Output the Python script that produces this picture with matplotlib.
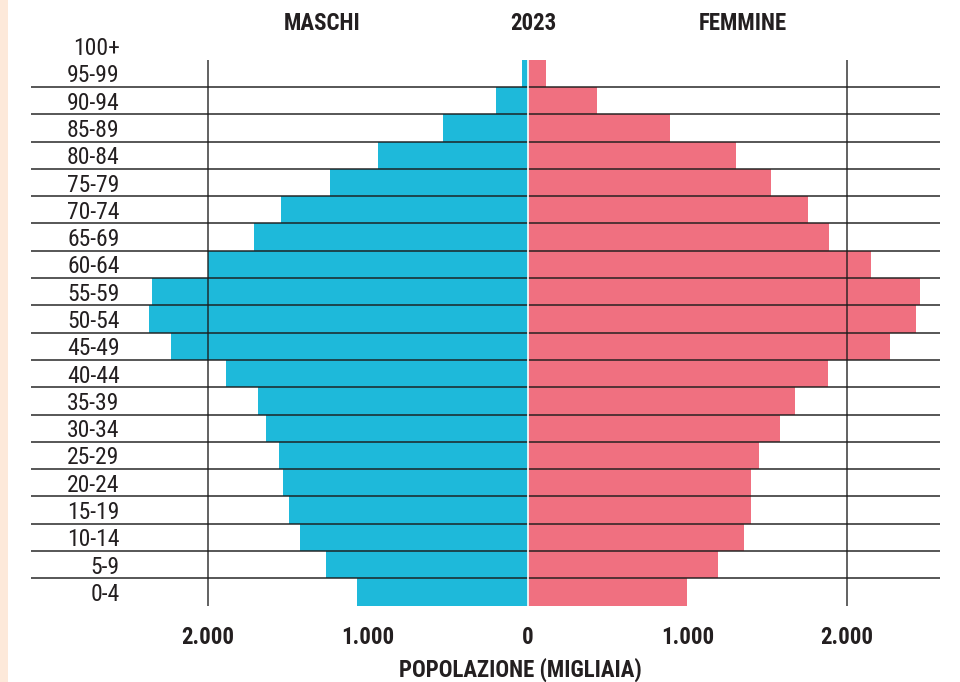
import matplotlib
matplotlib.use("Agg")
import matplotlib.pyplot as plt
from matplotlib.patches import Rectangle
import matplotlib.transforms as mtransforms

plt.rcParams['font.family'] = ['Roboto Condensed', 'DejaVu Sans Condensed', 'DejaVu Sans']

# Age classes, top to bottom
age_groups = ["100+", "95-99", "90-94", "85-89", "80-84", "75-79", "70-74", "65-69",
              "60-64", "55-59", "50-54", "45-49", "40-44", "35-39", "30-34", "25-29",
              "20-24", "15-19", "10-14", "5-9", "0-4"]

# Resident population, thousands
males = [0, 33, 197, 532, 938, 1237, 1543, 1713, 2003, 2349, 2368, 2231, 1888,
         1688, 1638, 1557, 1532, 1495, 1424, 1264, 1071]
females = [0, 118, 437, 890, 1306, 1525, 1757, 1889, 2153, 2455, 2430, 2267, 1883,
           1675, 1581, 1449, 1399, 1399, 1355, 1191, 1000]

x_ticks = [-2000, -1000, 0, 1000, 2000]
x_tick_labels = ["2.000", "1.000", "0", "1.000", "2.000"]

title_left = "MASCHI"
title_mid = "2023"
title_right = "FEMMINE"
x_title = "POPOLAZIONE (MIGLIAIA)"

BLUE = "#1EB9DA"
PINK = "#F07080"
TEXT = "#231F20"
GRID = "#1c1c1c"

W, H = 960, 682
fig = plt.figure(figsize=(W / 100, H / 100), dpi=100)
fig.patch.set_facecolor("white")

# thin peach strip along the left border
fig.patches.append(Rectangle((0, 0), 8 / W, 1, transform=fig.transFigure,
                             facecolor="#FDE9DA", edgecolor="none", zorder=0))

n = len(age_groups)
ax_left, ax_right = 31, 940
ax_top, ax_bottom = 32.35, 605.65
ax = fig.add_axes([ax_left / W, 1 - ax_bottom / H,
                   (ax_right - ax_left) / W, (ax_bottom - ax_top) / H])
ax.set_facecolor("none")

x0_px = 527.6
px_per_unit = 0.1597
ax.set_xlim(-(x0_px - ax_left) / px_per_unit, (ax_right - x0_px) / px_per_unit)
ax.set_ylim(-0.5, n - 0.5)

ypos = [n - 1 - i for i in range(n)]
ax.barh(ypos, [-m for m in males], height=1.0, color=BLUE, edgecolor="none", zorder=2)
ax.barh(ypos, females, height=1.0, color=PINK, edgecolor="none", zorder=2)

# row separators from 90-94/95-99 down to 0-4/5-9
for k in range(n - 2):
    ax.axhline(k + 0.5, color=GRID, lw=1.3, alpha=0.8, zorder=3)

# vertical reference lines at +/- 2.000
top_bar = n - 2 + 0.5
for xv in (-2000, 2000):
    ax.plot([xv, xv], [-0.5, top_bar], color=GRID, lw=1.3, alpha=0.75, zorder=3,
            solid_capstyle="butt")

# white split between the two sides
ax.plot([0, 0], [-0.5, top_bar], color="white", lw=1.2, zorder=4, solid_capstyle="butt")

for s in ax.spines.values():
    s.set_visible(False)
ax.set_xticks([])
ax.set_yticks([])

# age labels, right-aligned inside the axes area (nudged 2.5 px down)
shift = mtransforms.ScaledTranslation(0, -2.5 / 100, fig.dpi_scale_trans)
trans = mtransforms.blended_transform_factory(ax.transAxes, ax.transData) + shift
lab_x = (119.5 - ax_left) / (ax_right - ax_left)
for y, lab in zip(ypos, age_groups):
    ax.text(lab_x, y, lab, transform=trans, ha="right", va="center",
            fontsize=17, color=TEXT)

# x tick labels below the chart
trans_x = mtransforms.blended_transform_factory(ax.transData, fig.transFigure)
for xv, lab in zip(x_ticks, x_tick_labels):
    ax.text(xv, 1 - 637 / H, lab, transform=trans_x, ha="center", va="center",
            fontsize=16.5, fontweight="bold", color=TEXT)

fig.text(520 / W, 1 - 670 / H, x_title, ha="center", va="center",
         fontsize=16.5, fontweight="bold", color=TEXT)

# headers
fig.text(322 / W, 1 - 24 / H, title_left, ha="center", va="center",
         fontsize=16.5, fontweight="bold", color=TEXT)
fig.text(533 / W, 1 - 24 / H, title_mid, ha="center", va="center",
         fontsize=16.5, fontweight="bold", color=TEXT)
fig.text(743 / W, 1 - 24 / H, title_right, ha="center", va="center",
         fontsize=16.5, fontweight="bold", color=TEXT)

fig.savefig("out.png", dpi=100)
